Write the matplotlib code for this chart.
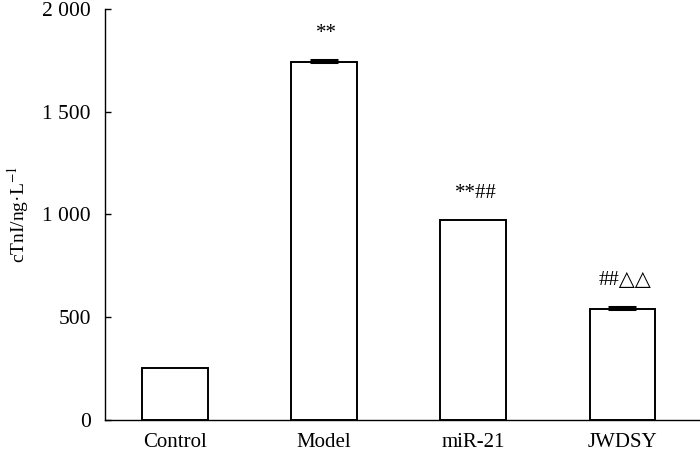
import matplotlib
matplotlib.use("Agg")
import matplotlib.pyplot as plt
from matplotlib.ticker import FuncFormatter

plt.rcParams.update({"font.family": ["Liberation Serif", "DejaVu Serif"],
                     "mathtext.fontset": "stix"})

groups = ["Control", "Model", "miR-21", "JWDSY"]
ctni = [250, 1745, 973, 540]
sd = [0, 8, 0, 8]
marks = ["", "**", "**##", "##△△"]

fig = plt.figure(figsize=(7, 4.51), dpi=100)
ax = fig.add_axes([0.1496, 0.0698, 0.8504, 0.9094])

x = list(range(len(groups)))
ax.bar(x, ctni, 0.44, color="white", edgecolor="black", linewidth=1.4)
for xi, v, e, m in zip(x, ctni, sd, marks):
    if e > 0:
        ax.errorbar(xi, v, yerr=[[0], [e]], fmt="none", ecolor="black",
                    elinewidth=1.4, capsize=10, capthick=2.2)
    if m:
        ax.annotate(m, (xi, v + e), xytext=(2, 19), textcoords="offset points",
                    ha="center", va="center", fontsize=15)

ax.set_xlim(-0.47, 3.52)
ax.set_ylim(0, 2000)
ax.set_yticks([0, 500, 1000, 1500, 2000])
ax.yaxis.set_major_formatter(FuncFormatter(lambda v, p: f"{int(v):,}".replace(",", " ")))
ax.set_xticks(x)
ax.set_xticklabels(groups)
ax.tick_params(axis="y", direction="in", length=4, width=1, pad=10, labelsize=15.5)
ax.tick_params(axis="x", length=0, pad=10, labelsize=15)
ax.set_ylabel("cTnI/ng·L$^{-1}$", fontsize=14, labelpad=8)
for s in ("top", "right"):
    ax.spines[s].set_visible(False)
for s in ("left", "bottom"):
    ax.spines[s].set_linewidth(1.0)

fig.savefig("out.png", dpi=100)
